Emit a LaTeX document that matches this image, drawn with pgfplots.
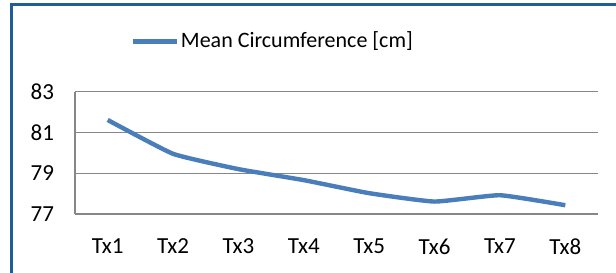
\documentclass[border=0pt]{standalone}
\usepackage{pgfplots}
\pgfplotsset{compat=1.18}
\usepackage{fontspec}
\setmainfont{Carlito}
\definecolor{serblue}{HTML}{4A7EBB}
\definecolor{frameblue}{HTML}{1F5C99}
\definecolor{gridgray}{HTML}{878787}
\begin{document}
\begin{tikzpicture}[x=1pt,y=1pt]
\useasboundingbox (0,0) rectangle (308,136.5);
\draw[frameblue, line width=1.5pt] (5.75,0) -- (5.75,134) -- (308,134);
\begin{axis}[
  at={(37.5pt,29.5pt)}, anchor=south west,
  scale only axis, width=261.5pt, height=61.2pt,
  xmin=0.5, xmax=8.5, ymin=77, ymax=83,
  xtick={1,...,8}, xticklabels={Tx1,Tx2,Tx3,Tx4,Tx5,Tx6,Tx7,Tx8},
  ytick={77,79,81,83},
  axis x line*=bottom, axis y line*=left,
  axis line style={gridgray, line width=0.6pt, -},
  ymajorgrids, grid style={gridgray, line width=0.6pt},
  major tick length=0pt,
  tick label style={font=\fontsize{11.5}{13}\selectfont, text=black},
  /pgf/number format/assume math mode=true,
  xticklabel style={yshift=-9pt},
  yticklabel style={xshift=-7pt},
  legend style={at={(rel axis cs:0.378,1.41)}, anchor=center, draw=none, fill=none,
    font=\fontsize{11}{13}\selectfont, inner sep=0pt, nodes={inner xsep=1pt}},
  legend cell align=left,
  legend image code/.code={\draw[serblue, line width=2.2pt] (0pt,0pt) -- (22pt,0pt);},
]
\addplot[serblue, line width=2.2pt, smooth, tension=0.25] coordinates {
  (1,81.61) (2,79.95) (3,79.2) (4,78.66) (5,78.02) (6,77.61) (7,77.92) (8,77.43)
};
\addlegendentry{Mean Circumference [cm]}
\end{axis}
\end{tikzpicture}
\end{document}
